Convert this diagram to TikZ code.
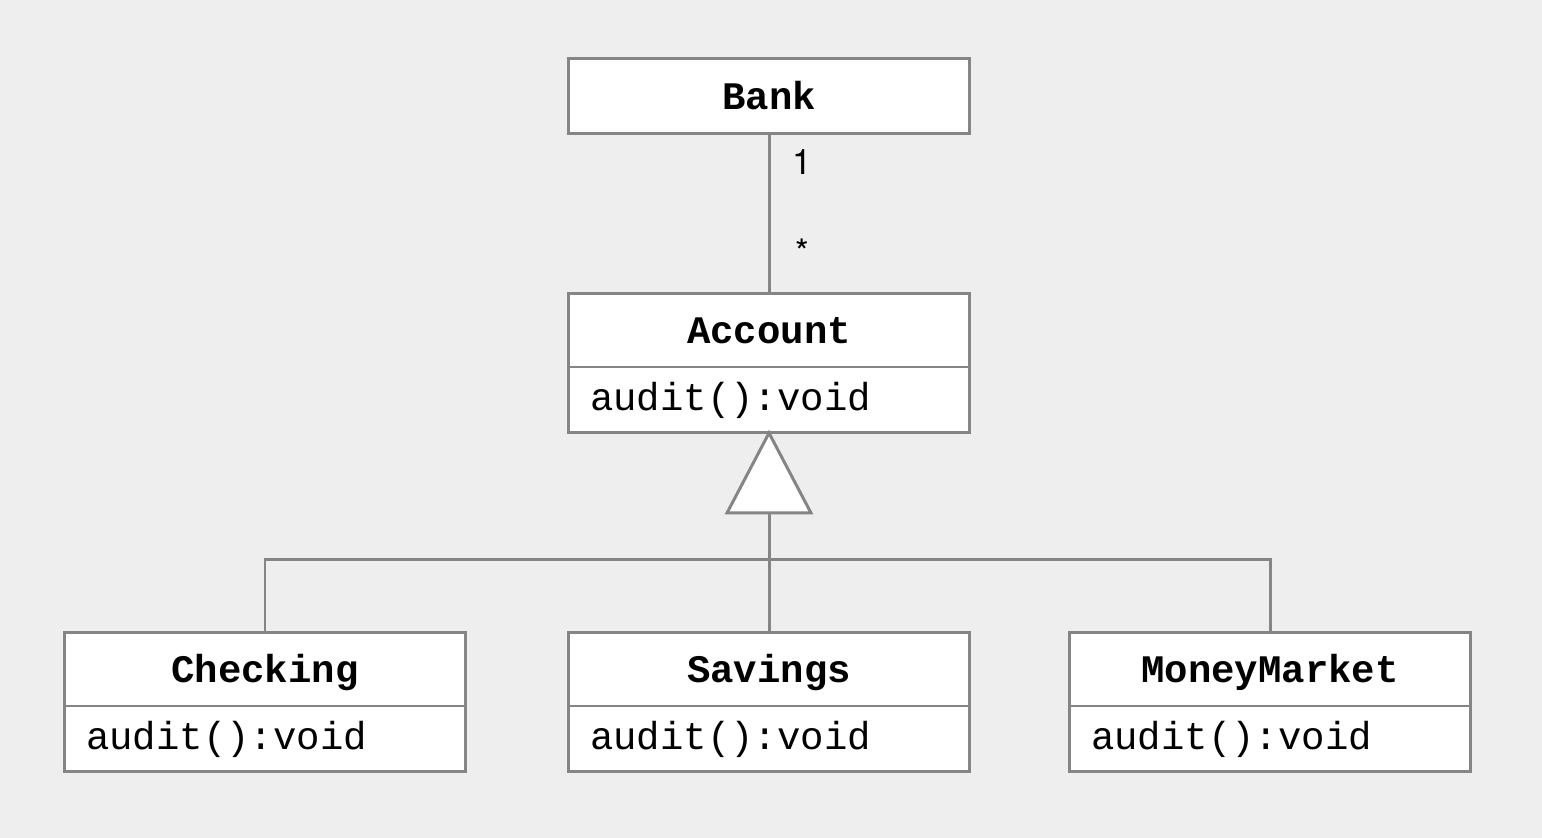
\documentclass[tikz,border=0pt]{standalone}
\usepackage{fontspec}
\usepackage{tikz}
\usetikzlibrary{positioning,calc}
\newfontfamily\umlsans{TeX Gyre Heros}
\newfontfamily\umlmono{Liberation Mono}
\definecolor{umlgray}{HTML}{858585}
\definecolor{umlback}{HTML}{EEEEEE}
\tikzstyle{uml} = [draw=umlgray, line width=1.7pt]
\tikzstyle{classname} = [uml, rectangle, fill=white, outer sep=0pt,
    minimum width=8.04cm, minimum height=1.5cm, text height=0.64cm, text depth=0.1cm,
    font=\umlmono\fontsize{22.2}{26}\selectfont\bfseries]
\tikzstyle{classops} = [uml, rectangle, fill=white, outer sep=0pt,
    minimum width=8.04cm, minimum height=1.32cm, inner xsep=0.44cm,
    text width=7.16cm, align=left,
    font=\umlmono\fontsize{22.2}{26}\selectfont]
\tikzstyle{mult} = [inner sep=0pt, font=\umlsans\fontsize{20}{24}\selectfont]

\begin{document}
\begin{tikzpicture}[x=0.02cm, y=-0.02cm]
  \fill [umlback] (0,0) rectangle (1542,838);
  \useasboundingbox (0,0) rectangle (1542,838);
  % classes
  \node [classname] (bank) at (769,96) {Bank};
  \node [classname, minimum height=1.48cm] (acct) at (769,330) {Account};
  \node [classops, below=0pt of acct] (acctops) {audit():void};
  \node [classname, minimum height=1.48cm] (chk) at (265,669) {Checking};
  \node [classops, below=0pt of chk] (chkops) {audit():void};
  \node [classname, minimum height=1.48cm] (sav) at (769,669) {Savings};
  \node [classops, below=0pt of sav] (savops) {audit():void};
  \node [classname, minimum height=1.48cm] (mm) at (1270,669) {MoneyMarket};
  \node [classops, below=0pt of mm] (mmops) {audit():void};
  % association
  \draw [uml] (bank) -- (acct)
    node [mult, pos=0.18, right=0.44cm] (one) {1}
    node [mult, pos=0.74, right=0.5cm] (many) {*};
  % generalization
  \coordinate (base) at ($(acctops.south)+(0,80)$);
  \coordinate (junc) at ($(acctops.south)+(0,127)$);
  \draw [uml, fill=white, line join=miter] (acctops.south) -- ($(base)+(-42,0)$)
    -- ($(base)+(42,0)$) -- cycle;
  \draw [uml] (base) -- (sav);
  \draw [uml] (chk) |- (junc) -| (mm);
\end{tikzpicture}
\end{document}
